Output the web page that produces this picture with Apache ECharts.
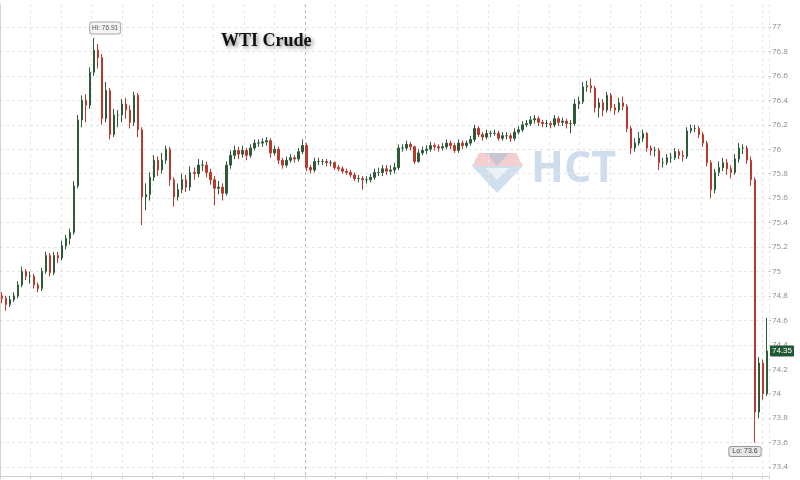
<!DOCTYPE html>
<html><head><meta charset="utf-8">
<script src="https://cdn.jsdelivr.net/npm/echarts@6/dist/echarts.min.js"></script>
<style>html,body{margin:0;padding:0;background:#fff}#c{width:800px;height:480px}</style>
</head><body><div id="c"></div>
<script>
// Price ticks (right axis)
const yMin = 73.4, yMax = 77, yStep = 0.2;
// Candle data (OHLC per bar)
const open = [74.80,74.78,74.73,74.77,74.80,74.89,75.00,74.96,74.96,74.89,74.86,75.00,75.13,74.99,75.13,75.11,75.21,75.27,75.32,75.70,76.24,76.40,76.36,76.63,76.81,76.75,76.25,76.48,76.12,76.28,76.28,76.37,76.32,76.22,76.44,76.16,75.61,75.63,75.77,75.91,75.83,75.91,76.00,75.75,75.61,75.67,75.75,75.69,75.81,75.80,75.87,75.87,75.81,75.75,75.68,75.69,75.64,75.87,75.95,75.99,75.96,75.99,75.95,76.01,76.05,76.05,76.06,76.07,75.97,76.00,75.91,75.87,75.91,75.93,75.92,75.98,76.03,75.85,75.83,75.90,75.90,75.90,75.89,75.89,75.85,75.84,75.82,75.81,75.79,75.76,75.76,75.75,75.75,75.77,75.81,75.81,75.84,75.82,75.83,75.85,76.01,76.01,76.04,76.02,75.90,75.97,75.99,76.00,76.03,76.02,76.01,76.02,76.05,76.03,75.99,76.05,76.03,76.05,76.08,76.17,76.12,76.10,76.13,76.13,76.13,76.09,76.11,76.11,76.09,76.14,76.16,76.20,76.21,76.24,76.25,76.22,76.21,76.21,76.20,76.25,76.22,76.23,76.21,76.21,76.37,76.39,76.51,76.52,76.50,76.34,76.38,76.32,76.44,76.34,76.32,76.38,76.35,76.17,76.01,76.05,76.09,76.13,76.01,75.99,75.99,75.89,75.89,75.93,75.93,75.98,75.95,75.94,76.15,76.17,76.17,76.12,76.05,75.89,75.67,75.81,75.85,75.89,75.84,75.81,75.92,76.01,76.01,75.91,75.75,73.85,74.25,74.00];
const close = [74.78,74.73,74.77,74.80,74.89,75.00,74.96,74.96,74.89,74.86,75.00,75.13,74.99,75.13,75.11,75.21,75.27,75.32,75.70,76.24,76.40,76.36,76.63,76.81,76.75,76.25,76.48,76.12,76.28,76.28,76.37,76.32,76.22,76.44,76.16,75.61,75.63,75.77,75.91,75.83,75.91,76.00,75.75,75.61,75.67,75.75,75.69,75.81,75.80,75.87,75.87,75.81,75.75,75.68,75.69,75.64,75.87,75.95,75.99,75.96,75.99,75.95,76.01,76.05,76.05,76.06,76.07,75.97,76.00,75.91,75.87,75.91,75.93,75.92,75.98,76.03,75.85,75.83,75.90,75.90,75.90,75.89,75.89,75.85,75.84,75.82,75.81,75.79,75.76,75.76,75.75,75.75,75.77,75.81,75.81,75.84,75.82,75.83,75.85,76.01,76.01,76.04,76.02,75.90,75.97,75.99,76.00,76.03,76.02,76.01,76.02,76.05,76.03,75.99,76.05,76.03,76.05,76.08,76.17,76.12,76.10,76.13,76.13,76.13,76.09,76.11,76.11,76.09,76.14,76.16,76.20,76.21,76.24,76.25,76.22,76.21,76.21,76.20,76.25,76.22,76.23,76.21,76.21,76.37,76.39,76.51,76.52,76.50,76.34,76.38,76.32,76.44,76.34,76.32,76.38,76.35,76.17,76.01,76.05,76.09,76.13,76.01,75.99,75.99,75.89,75.89,75.93,75.93,75.98,75.95,75.94,76.15,76.17,76.17,76.12,76.05,75.89,75.67,75.81,75.85,75.89,75.84,75.81,75.92,76.01,76.01,75.91,75.75,73.85,74.25,74.00,74.35];
const high = [74.83,74.80,74.80,74.83,74.92,75.04,75.02,75.00,74.98,74.91,75.03,75.16,75.15,75.16,75.16,75.25,75.30,75.35,75.74,76.28,76.44,76.45,76.67,76.91,76.86,76.78,76.55,76.50,76.33,76.32,76.41,76.42,76.36,76.47,76.46,76.18,75.72,75.81,75.95,75.94,75.97,76.03,76.02,75.77,75.72,75.80,75.79,75.86,75.85,75.92,75.91,75.90,75.84,75.78,75.74,75.72,75.90,75.99,76.03,76.02,76.03,76.01,76.04,76.08,76.08,76.09,76.10,76.09,76.03,76.02,75.93,75.94,75.96,75.95,76.01,76.08,76.05,75.87,75.93,75.93,75.92,75.92,75.91,75.90,75.87,75.86,75.84,75.83,75.81,75.79,75.78,75.78,75.80,75.84,75.85,75.87,75.87,75.87,75.89,76.04,76.04,76.07,76.06,76.03,76.00,76.02,76.03,76.06,76.05,76.04,76.05,76.08,76.07,76.05,76.08,76.07,76.07,76.11,76.20,76.19,76.14,76.16,76.15,76.16,76.15,76.14,76.14,76.13,76.17,76.19,76.23,76.24,76.27,76.28,76.27,76.24,76.24,76.23,76.28,76.27,76.26,76.25,76.24,76.41,76.43,76.55,76.56,76.58,76.52,76.42,76.41,76.47,76.46,76.37,76.42,76.43,76.37,76.19,76.09,76.14,76.16,76.14,76.03,76.02,76.01,75.93,75.96,75.97,76.01,76.00,75.99,76.18,76.20,76.20,76.19,76.14,76.07,75.91,75.84,75.90,75.93,75.92,75.87,75.96,76.05,76.04,76.03,75.94,75.77,74.30,74.28,74.62];
const low = [74.74,74.68,74.71,74.75,74.78,74.87,74.93,74.90,74.86,74.83,74.84,74.98,74.96,74.97,75.07,75.09,75.18,75.22,75.30,75.68,76.18,76.22,76.33,76.60,76.66,76.20,76.22,76.08,76.10,76.18,76.22,76.25,76.17,76.19,76.10,75.38,75.50,75.58,75.74,75.78,75.80,75.88,75.70,75.53,75.58,75.64,75.65,75.66,75.75,75.77,75.82,75.77,75.71,75.54,75.63,75.58,75.62,75.84,75.92,75.92,75.93,75.91,75.93,75.99,76.02,76.02,76.03,75.93,75.95,75.88,75.84,75.85,75.89,75.89,75.90,75.96,75.82,75.80,75.81,75.87,75.87,75.86,75.86,75.83,75.82,75.80,75.79,75.77,75.74,75.73,75.67,75.72,75.73,75.75,75.78,75.78,75.79,75.79,75.80,75.83,75.98,75.99,75.99,75.88,75.89,75.95,75.96,75.98,75.99,75.98,75.99,76.00,76.00,75.97,75.97,76.00,76.01,76.03,76.06,76.10,76.07,76.08,76.10,76.11,76.07,76.07,76.08,76.06,76.07,76.12,76.14,76.18,76.19,76.21,76.19,76.18,76.18,76.17,76.18,76.19,76.19,76.17,76.13,76.19,76.33,76.37,76.47,76.46,76.30,76.26,76.27,76.30,76.31,76.28,76.30,76.32,76.14,75.96,75.98,76.03,76.06,75.98,75.95,75.94,75.83,75.85,75.87,75.89,75.91,75.92,75.90,75.92,76.13,76.14,76.09,76.02,75.86,75.60,75.64,75.78,75.82,75.79,75.76,75.79,75.89,75.96,75.88,75.70,73.60,73.80,73.95,73.98];
const lastPrice = 74.35;
const times = open.map((_, i) => String(i));

const candles = open.map((o, i) => [o, close[i], low[i], high[i]]);

const chart = echarts.init(document.getElementById('c'), null, {renderer: 'canvas'});
const gridColors = [];
for (let k = 0; k < 27; k++) gridColors.push(k === 10 ? '#b8b8b8' : '#e6e6e6');

chart.setOption({
  animation: false,
  backgroundColor: '#ffffff',
  title: {
    text: 'WTI Crude', left: 216, top: 27,
    textStyle: {fontFamily: 'Liberation Serif', fontWeight: 'bold', fontSize: 18, color: '#111',
      textShadowColor: 'rgba(0,0,0,0.45)', textShadowBlur: 4, textShadowOffsetX: 2, textShadowOffsetY: 2}
  },
  graphic: [
    {type: 'polygon', z: 0, silent: true, shape: {points: [[479,153],[516,153],[523,166],[472,166]]}, style: {fill: 'rgba(226,140,140,0.42)'}},
    {type: 'polygon', z: 0, silent: true, shape: {points: [[486,153],[509,153],[497,166]]}, style: {fill: 'rgba(150,185,215,0.45)'}},
    {type: 'polygon', z: 0, silent: true, shape: {points: [[472,166],[523,166],[497,193]]}, style: {fill: 'rgba(150,185,215,0.45)'}},
    {type: 'polygon', z: 0, silent: true, shape: {points: [[486,168],[509,168],[497,180]]}, style: {fill: 'rgba(255,255,255,0.6)'}},
    {type: 'text', z: 0, silent: true, left: 531, top: 148, style: {text: 'HCT', font: 'bold 43px "Open Sans", sans-serif', fill: 'rgba(130,170,210,0.4)'}}
  ],
  grid: [
    {left: 0, right: 31, top: 27, bottom: 13},
    {left: 0, right: 31, top: 4, bottom: 4}
  ],
  xAxis: [
    {type: 'category', gridIndex: 0, data: times, boundaryGap: true,
      axisLine: {show: false}, axisTick: {show: false}, axisLabel: {show: false}, splitLine: {show: false}},
    {type: 'value', gridIndex: 1, min: 0, max: 769 / 30.5, interval: 1,
      axisLine: {show: true, lineStyle: {color: '#cfcfcf'}},
      axisTick: {show: true, length: 3, lineStyle: {color: '#cfcfcf'}},
      axisLabel: {show: false},
      splitLine: {show: true, lineStyle: {color: gridColors, type: [3, 3], width: 1}}}
  ],
  yAxis: [
    {type: 'value', gridIndex: 0, position: 'right', min: yMin, max: yMax, interval: yStep,
      axisLine: {show: false}, axisTick: {show: true, length: 2, lineStyle: {color: '#c8c8c8'}},
      axisLabel: {fontSize: 8, color: '#8a8a8a', margin: 3, fontFamily: 'Open Sans'},
      splitLine: {show: true, lineStyle: {color: '#e6e6e6', type: [3, 3]}}},
    {type: 'value', gridIndex: 1, position: 'right', min: 0, max: 1,
      axisLine: {show: true, lineStyle: {color: '#d4d4d4'}}, axisTick: {show: false},
      axisLabel: {show: false}, splitLine: {show: false}}
  ],
  series: [{
    type: 'candlestick', xAxisIndex: 0, yAxisIndex: 0, data: candles, barWidth: '50%',
    itemStyle: {color: '#2f5a3a', color0: '#b83a2e', borderColor: '#2f5a3a', borderColor0: '#b83a2e', borderWidth: 1},
    markPoint: {
      symbol: 'circle', symbolSize: 1, itemStyle: {color: '#999'},
      data: [
        {type: 'max', valueDim: 'highest', label: {show: true, position: 'inside', offset: [11, -10],
          formatter: p => 'Hi: ' + p.value, fontSize: 6.5, color: '#555', backgroundColor: '#f3f3f3',
          borderColor: '#aaa', borderWidth: 1, borderRadius: 2, padding: [2, 2]}},
        {type: 'min', valueDim: 'lowest', label: {show: true, position: 'inside', offset: [-10, 9],
          formatter: p => 'Lo: ' + p.value, fontSize: 7, color: '#444', backgroundColor: '#e8e8e8',
          borderColor: '#999', borderWidth: 1, borderRadius: 2, padding: [1, 3]}}
      ]
    },
    markLine: {
      silent: true, symbol: ['none', 'none'], animation: false,
      lineStyle: {width: 0, color: 'rgba(0,0,0,0)'},
      label: {show: true, position: 'end', distance: 1, formatter: String(lastPrice), fontSize: 8,
        color: '#fff', backgroundColor: '#1f5a35', borderRadius: 1, padding: [2, 2, 1, 2]},
      data: [{yAxis: lastPrice}]
    }
  }]
});
</script></body></html>
